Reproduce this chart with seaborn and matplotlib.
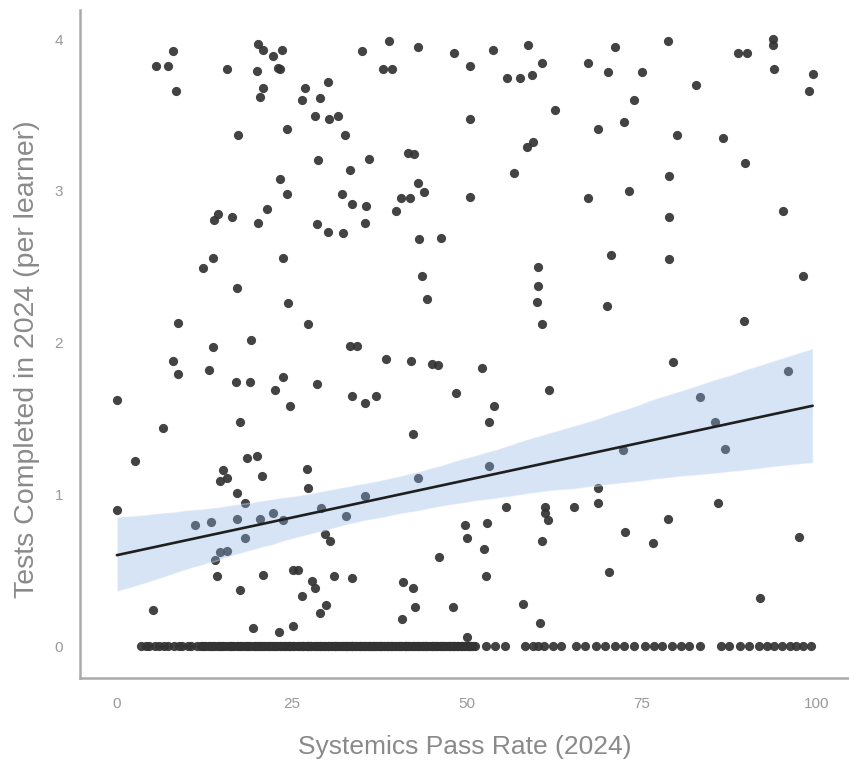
import numpy as np
import pandas as pd
import matplotlib
matplotlib.use("Agg")
import matplotlib.pyplot as plt
import seaborn as sns

# ---- data (non-zero points) ----
pass_rate_nz = [
    8.0, 5.6, 7.3, 8.4, 15.7, 20.0, 20.1, 20.9, 22.3, 23.0, 20.9, 20.4, 17.3, 23.3,
    14.4, 13.9, 16.4, 20.1, 21.4, 13.7, 12.3, 17.1, 8.7, 19.1, 13.7,
    23.6, 23.3, 35.0, 38.9, 43.0, 48.1, 50.4, 38.0, 39.3, 30.1, 26.9, 26.4, 29.0,
    28.3, 30.3, 31.6, 32.6, 24.3, 28.7, 36.0, 33.3, 41.6, 42.4, 24.3, 32.1, 33.6,
    35.6, 35.4, 28.6, 30.1, 32.3, 43.0, 43.9, 40.6, 41.9, 39.9, 43.1, 46.3, 50.4,
    50.4, 23.7, 24.4, 27.3, 33.3, 34.3, 43.6, 44.3,
    53.7, 58.7, 60.7, 59.3, 55.7, 57.6, 67.3, 71.1, 70.1, 75.0, 73.9, 62.6, 72.4,
    68.7, 59.4, 58.6, 56.7, 67.3, 73.1, 70.6, 60.1, 60.1, 60.0, 60.7, 70.0,
    78.7, 88.7, 90.0, 93.7, 93.7, 93.9, 99.4, 98.9, 82.7, 80.0, 86.6, 89.7, 78.9,
    78.9, 95.1, 78.9, 98.0, 89.6,
    8.0, 8.7, 13.1, 17.0, 19.0, 22.6, 0.0, 6.6, 17.6, 2.6, 18.6, 20.0, 15.1, 14.7,
    15.7, 20.7, 17.1, 18.3, 0.0, 11.1, 13.4, 17.1, 20.4, 22.3, 18.3, 15.7, 14.7,
    14.0, 14.3, 20.9, 17.6, 5.1, 19.4, 23.1,
    23.7, 28.6, 24.7, 33.6, 35.4, 37.0, 38.4, 42.0, 45.0, 45.9, 48.4, 42.3, 27.1,
    27.3, 43.0, 35.4, 29.1, 32.7, 23.7, 29.7, 30.4, 49.7, 50.0, 46.0, 25.1, 25.9,
    31.0, 33.6, 27.9, 28.3, 26.4, 40.9, 42.3, 42.6, 48.0, 29.9, 29.0, 40.7, 25.1,
    50.0,
    52.1, 61.7, 53.9, 53.1, 53.1, 55.6, 61.1, 61.1, 61.6, 65.3, 68.7, 68.7, 72.3,
    52.9, 52.4, 52.7, 60.7, 72.6, 76.6, 70.3, 58.0, 60.4,
    79.4, 95.9, 83.3, 85.4, 86.9, 85.9, 78.7, 97.4, 91.9,
]
tests_nz = [
    3.92, 3.82, 3.82, 3.66, 3.80, 3.79, 3.97, 3.93, 3.89, 3.81, 3.68, 3.62, 3.37, 3.08,
    2.85, 2.81, 2.83, 2.79, 2.88, 2.56, 2.49, 2.36, 2.13, 2.02, 1.97,
    3.93, 3.80, 3.92, 3.99, 3.95, 3.91, 3.82, 3.80, 3.80, 3.72, 3.68, 3.60, 3.61,
    3.49, 3.47, 3.49, 3.37, 3.41, 3.20, 3.21, 3.14, 3.25, 3.24, 2.98, 2.98, 2.91,
    2.90, 2.79, 2.78, 2.73, 2.72, 3.05, 2.99, 2.95, 2.95, 2.87, 2.68, 2.69, 3.47,
    2.96, 2.56, 2.26, 2.12, 1.98, 1.98, 2.44, 2.29,
    3.93, 3.96, 3.84, 3.76, 3.74, 3.74, 3.84, 3.95, 3.78, 3.78, 3.60, 3.53, 3.45,
    3.41, 3.32, 3.29, 3.12, 2.95, 3.00, 2.58, 2.50, 2.37, 2.27, 2.12, 2.24,
    3.99, 3.91, 3.91, 4.00, 3.96, 3.80, 3.77, 3.66, 3.70, 3.37, 3.35, 3.18, 3.10,
    2.83, 2.87, 2.55, 2.44, 2.14,
    1.88, 1.79, 1.82, 1.74, 1.74, 1.69, 1.62, 1.44, 1.48, 1.22, 1.24, 1.25, 1.16, 1.09,
    1.11, 1.12, 1.01, 0.94, 0.90, 0.80, 0.82, 0.84, 0.84, 0.88, 0.71, 0.63, 0.62,
    0.57, 0.46, 0.47, 0.37, 0.24, 0.12, 0.09,
    1.77, 1.73, 1.58, 1.65, 1.60, 1.65, 1.89, 1.88, 1.86, 1.85, 1.67, 1.40, 1.17,
    1.04, 1.11, 0.99, 0.91, 0.86, 0.83, 0.74, 0.69, 0.80, 0.71, 0.59, 0.50, 0.50,
    0.46, 0.45, 0.43, 0.38, 0.33, 0.42, 0.38, 0.26, 0.26, 0.27, 0.22, 0.18, 0.13,
    0.06,
    1.83, 1.69, 1.58, 1.48, 1.19, 0.92, 0.92, 0.88, 0.83, 0.92, 1.04, 0.94, 1.29,
    0.81, 0.64, 0.46, 0.69, 0.75, 0.68, 0.49, 0.28, 0.15,
    1.87, 1.81, 1.64, 1.48, 1.30, 0.94, 0.84, 0.72, 0.32,
]

# ---- learners with zero tests (read along the bottom row) ----
pass_rate_zero = [
    3.4, 4.1, 4.6, 5.5, 6.0, 6.8, 7.3, 8.2, 8.9, 9.3, 10.1, 10.6, 11.4, 12.0, 12.5,
    13.3, 13.7, 14.6, 15.0, 15.9, 16.3, 17.1, 17.6, 18.4, 18.8, 19.7, 20.3, 20.7,
    21.6, 22.0, 22.8, 23.5, 23.9, 24.7, 25.2, 26.0, 26.4, 27.3, 27.7, 28.5, 29.0,
    29.8, 30.2, 31.1, 31.5, 32.3, 32.8, 33.6, 34.0, 34.9, 35.3, 36.1, 36.6, 37.4,
    37.8, 38.7, 39.1, 39.9, 40.4, 41.2, 41.6, 42.5, 42.9, 43.7, 44.2, 45.0, 45.4,
    46.3, 46.7, 47.5, 48.0, 48.8, 49.2, 50.1, 50.5, 51.2,
    52.8, 54.0, 55.5, 58.3, 59.4, 60.1, 61.0, 62.3, 63.5,
    65.6, 66.9, 68.4, 69.8, 71.2, 72.5, 73.9, 75.4, 76.8, 77.9,
    79.3, 80.6, 81.8, 83.3, 86.3, 87.5, 89.0, 90.3,
    91.8, 92.9, 93.9, 95.0, 96.1, 97.0, 98.0, 99.2,
]
# overlapping zero-test learners hidden in the solid stretch of the bottom row
pass_rate_zero_dense = [
    12.2, 12.6, 13.0, 13.5, 13.9, 14.3, 14.8, 15.2, 15.5, 16.1, 16.4, 16.8, 17.3,
    17.7, 18.0, 18.5, 18.9, 19.2, 19.6, 19.9,
    20.1, 20.4, 20.7, 21.0, 21.2, 21.6, 21.9, 22.3, 22.5, 22.8, 23.2, 23.5, 23.9,
    24.1, 24.4, 24.8, 25.1, 25.3, 25.7, 26.0, 26.4, 26.6, 26.9, 27.3, 27.5, 27.8,
    28.2, 28.4, 28.7, 29.0, 29.3, 29.5, 29.8, 24.6, 27.1,
    30.1, 30.3, 30.6, 30.8, 31.0, 31.2, 31.5, 31.7, 31.9, 32.2, 32.4, 32.7, 32.9,
    33.1, 33.4, 33.6, 33.8, 34.1, 34.3, 34.6, 34.8, 35.0, 35.3, 35.5, 35.7, 36.0,
    36.2, 36.4, 36.7, 36.9, 37.2, 37.4, 37.6, 37.9, 38.1, 38.3, 38.6, 38.8, 39.0,
    39.3, 39.5, 39.8, 33.0, 35.9, 37.0,
    40.1, 40.3, 40.6, 40.8, 41.1, 41.3, 41.5, 41.8, 42.0, 42.3, 42.5, 42.8, 43.0,
    43.2, 43.5, 43.7, 44.0, 44.2, 44.5, 44.7, 45.0, 45.2, 45.4, 45.7, 45.9, 46.2,
    46.4, 46.6, 46.9, 47.1, 47.4, 47.6, 47.9, 48.1, 48.3, 48.6, 48.8, 49.1, 49.3,
    49.6, 49.8, 50.1, 50.3, 50.6, 50.9,
]

x_ticks = [0, 25, 50, 75, 100]
y_ticks = [0, 1, 2, 3, 4]
x_title = "Systemics Pass Rate (2024)"
y_title = "Tests Completed in 2024 (per learner)"

zeros_x = pass_rate_zero + pass_rate_zero_dense
df = pd.DataFrame({
    "pass_rate": pass_rate_nz + zeros_x,
    "tests": tests_nz + [0.0] * len(zeros_x),
})

sns.set_style("white")
plt.rcParams["font.family"] = ["Liberation Sans", "DejaVu Sans"]

fig = plt.figure(figsize=(8.49, 7.65), dpi=100)
ax = fig.add_axes([0.094, 0.1137, 0.906, 0.873])

sns.regplot(
    data=df, x="pass_rate", y="tests", ax=ax, ci=95, seed=3, n_boot=1000,
    scatter_kws=dict(s=44, color="#333333", alpha=0.92, linewidths=0),
    line_kws=dict(color="#1f1f1f", linewidth=1.9),
)
# restyle the confidence band
for coll in ax.collections[1:]:
    coll.set_facecolor((138 / 255, 178 / 255, 232 / 255))
    coll.set_alpha(0.35)

ax.set_xlim(-5.3, 104.6)
ax.set_ylim(-0.21, 4.19)
ax.set_xticks(x_ticks)
ax.set_yticks(y_ticks)
ax.set_xlabel(x_title, fontsize=19, color="#8a8a8a", labelpad=17)
ax.set_ylabel(y_title, fontsize=20.5, color="#8a8a8a")
ax.yaxis.set_label_coords(-0.052, 0.4775)

for side in ["top", "right"]:
    ax.spines[side].set_visible(False)
for side in ["left", "bottom"]:
    ax.spines[side].set_color("#aaaaaa")
    ax.spines[side].set_linewidth(1.8)
ax.tick_params(axis="both", which="major", length=5, width=1.5, color="#999999",
               labelcolor="#999999", labelsize=11, direction="out")
ax.tick_params(axis="x", pad=9)
ax.tick_params(axis="y", pad=7)

fig.savefig("out.png", dpi=100)
